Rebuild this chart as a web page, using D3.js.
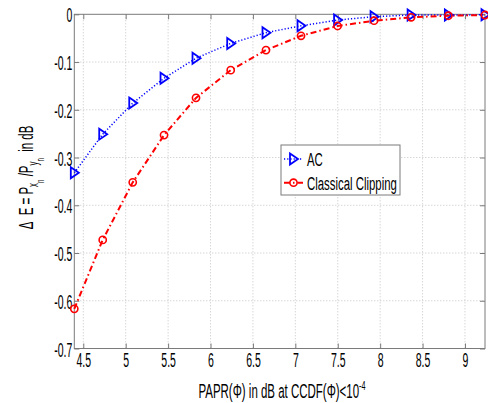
<!DOCTYPE html>
<html>
<head>
<meta charset="utf-8">
<script src="https://cdn.jsdelivr.net/npm/d3@7"></script>
<style>
  html, body { margin: 0; padding: 0; background: #fff; }
  svg { display: block; }
  text { font-family: "Liberation Sans", Arial, sans-serif; fill: #000; }
</style>
</head>
<body>
<svg id="chart" width="488" height="403"></svg>
<script>
// ---- data ----
const paprX = [4.394, 4.729, 5.083, 5.452, 5.829, 6.238, 6.654, 7.067, 7.498, 7.928, 8.365, 8.804, 9.236];
const acValues = [-0.332, -0.251, -0.186, -0.134, -0.092, -0.061, -0.0385, -0.024, -0.012, -0.005, -0.0015, -0.0015, -0.001];
const clipValues = [-0.617, -0.4725, -0.352, -0.253, -0.175, -0.117, -0.075, -0.045, -0.0245, -0.0134, -0.0063, -0.003, -0.0015];
const xTicks = [4.5, 5, 5.5, 6, 6.5, 7, 7.5, 8, 8.5, 9];
const xTickLabels = ["4.5", "5", "5.5", "6", "6.5", "7", "7.5", "8", "8.5", "9"];
const yTicks = [0, -0.1, -0.2, -0.3, -0.4, -0.5, -0.6, -0.7];
const yTickLabels = ["0", "-0.1", "-0.2", "-0.3", "-0.4", "-0.5", "-0.6", "-0.7"];
const seriesNames = ["AC", "Classical Clipping"];

// ---- layout ----
const W = 488, H = 403;
const plot = { left: 74.3, right: 485, top: 14.3, bottom: 348.5 };
const TICK_SX = 0.5;      // horizontal compression to mimic the condensed font
const axisColor = "#7a7a7a";
const gridColor = "#c4c4c4";

const svg = d3.select("#chart");

const x = d3.scaleLinear().domain([paprX[0], paprX[paprX.length - 1]]).range([plot.left, plot.right]);
const y = d3.scaleLinear().domain([-0.7, 0]).range([plot.bottom, plot.top]);

// background
svg.append("rect").attr("width", W).attr("height", H).attr("fill", "#fff");

// grid
const grid = svg.append("g");
grid.selectAll("line.vx").data(xTicks).enter().append("line")
  .attr("x1", d => x(d)).attr("x2", d => x(d))
  .attr("y1", plot.top).attr("y2", plot.bottom)
  .attr("stroke", gridColor).attr("stroke-width", 1).attr("stroke-dasharray", "1,2");
grid.selectAll("line.hy").data(yTicks.filter(d => d !== 0 && d !== -0.7)).enter().append("line")
  .attr("x1", plot.left).attr("x2", plot.right)
  .attr("y1", d => y(d)).attr("y2", d => y(d))
  .attr("stroke", gridColor).attr("stroke-width", 1).attr("stroke-dasharray", "1,2");

// axes
const xAxis = d3.axisBottom(x).tickValues(xTicks).tickFormat((d, i) => xTickLabels[i]).tickSizeInner(-5).tickSizeOuter(0).tickPadding(0);
const gx = svg.append("g").attr("transform", `translate(0,${plot.bottom})`).call(xAxis);
gx.select(".domain").remove();
gx.selectAll(".tick line").attr("stroke", axisColor);
gx.selectAll(".tick text")
  .attr("y", 18.5).attr("dy", 0)
  .attr("transform", `scale(${TICK_SX},1)`)
  .style("font-size", "21px").style("font-family", "'Liberation Sans', Arial, sans-serif").attr("fill", "#000");

const xAxisTop = d3.axisTop(x).tickValues(xTicks).tickFormat("").tickSizeInner(-5).tickSizeOuter(0);
const gxt = svg.append("g").attr("transform", `translate(0,${plot.top})`).call(xAxisTop);
gxt.select(".domain").remove();
gxt.selectAll(".tick line").attr("stroke", axisColor);

const yAxis = d3.axisLeft(y).tickValues(yTicks).tickFormat((d, i) => yTickLabels[i]).tickSizeInner(-5).tickSizeOuter(0).tickPadding(0);
const gy = svg.append("g").attr("transform", `translate(${plot.left},0)`).call(yAxis);
gy.select(".domain").remove();
gy.selectAll(".tick line").attr("stroke", axisColor);
gy.selectAll(".tick text")
  .attr("x", -2 / TICK_SX).attr("dy", "0.36em")
  .attr("transform", `scale(${TICK_SX},1)`)
  .style("font-size", "21px").style("font-family", "'Liberation Sans', Arial, sans-serif").attr("fill", "#000");

const yAxisRight = d3.axisRight(y).tickValues(yTicks).tickFormat("").tickSizeInner(-5).tickSizeOuter(0);
const gyr = svg.append("g").attr("transform", `translate(${plot.right},0)`).call(yAxisRight);
gyr.select(".domain").remove();
gyr.selectAll(".tick line").attr("stroke", axisColor);

// plot box
svg.append("rect").attr("x", plot.left).attr("y", plot.top)
  .attr("width", plot.right - plot.left).attr("height", plot.bottom - plot.top)
  .attr("fill", "none").attr("stroke", axisColor).attr("stroke-width", 1);

// marker helpers
function triRight(g, cx, cy, color) {
  g.append("path")
    .attr("d", `M${cx - 3.5},${cy - 5.5} L${cx + 4.5},${cy} L${cx - 3.5},${cy + 5.5} Z`)
    .attr("fill", "none").attr("stroke", color).attr("stroke-width", 1.8);
}
function circ(g, cx, cy, color) {
  g.append("circle").attr("cx", cx).attr("cy", cy).attr("r", 3.6)
    .attr("fill", "none").attr("stroke", color).attr("stroke-width", 1.6);
}

const acColor = "#0000ff", clipColor = "#ff0000";
const line = d3.line().x(d => x(d[0])).y(d => y(d[1]));

const acData = paprX.map((v, i) => [v, acValues[i]]);
const clipData = paprX.map((v, i) => [v, clipValues[i]]);

const series = svg.append("g");
series.append("path").datum(acData).attr("d", line)
  .attr("fill", "none").attr("stroke", acColor).attr("stroke-width", 1.5).attr("stroke-dasharray", "1.2,2");
series.append("path").datum(clipData).attr("d", line)
  .attr("fill", "none").attr("stroke", clipColor).attr("stroke-width", 2).attr("stroke-dasharray", "6,3,1.5,3");

const mk = svg.append("g");
acData.forEach(d => triRight(mk, x(d[0]), y(d[1]), acColor));
clipData.forEach(d => circ(mk, x(d[0]), y(d[1]), clipColor));

// text helper
function label(x0, y0, str, size, anchor, sx) {
  const g = svg.append("g").attr("transform", `translate(${x0},${y0}) scale(${sx},1)`);
  const t = g.append("text").attr("text-anchor", anchor || "start").style("font-size", size + "px");
  t.text(str);
  return t;
}

// legend
const lg = { x: 281, y: 145, w: 119, h: 50 };
svg.append("rect").attr("x", lg.x).attr("y", lg.y).attr("width", lg.w).attr("height", lg.h)
  .attr("fill", "#fff").attr("stroke", axisColor).attr("stroke-width", 1);
const ly1 = 159, ly2 = 182.7;
svg.append("line").attr("x1", 284).attr("x2", 303).attr("y1", ly1).attr("y2", ly1)
  .attr("stroke", acColor).attr("stroke-width", 1.5).attr("stroke-dasharray", "1.2,2");
triRight(svg, 293.5, ly1, acColor);
svg.append("line").attr("x1", 284).attr("x2", 303).attr("y1", ly2).attr("y2", ly2)
  .attr("stroke", clipColor).attr("stroke-width", 2).attr("stroke-dasharray", "6,3,1.5,3");
circ(svg, 293.5, ly2, clipColor);
label(307, ly1 + 6.8, seriesNames[0], 19, "start", 0.6);
label(307, ly2 + 6.8, seriesNames[1], 19, "start", 0.6);

// x-axis title
{
  const g = svg.append("g").attr("transform", `translate(282,397.5) scale(0.56,1)`);
  const t = g.append("text").attr("text-anchor", "middle").style("font-size", "20.5px");
  t.append("tspan").text("PAPR(\u03A6) in dB at CCDF(\u03A6)<10");
  t.append("tspan").attr("dy", -8).style("font-size", "13px").text("-4");
}

// y-axis title
{
  const g = svg.append("g").attr("transform", `translate(33,177.5) rotate(-90) scale(0.56,1)`);
  const t = g.append("text").attr("text-anchor", "middle").style("font-size", "20.5px");
  t.append("tspan").text("\u0394\u00A0\u00A0E = P");
  t.append("tspan").attr("dy", 5).style("font-size", "14px").text("x");
  t.append("tspan").attr("dy", 6).style("font-size", "11px").text("n");
  t.append("tspan").attr("dy", -11).text("\u00A0/P");
  t.append("tspan").attr("dy", 5).style("font-size", "14px").text("y");
  t.append("tspan").attr("dy", 6).style("font-size", "11px").text("n");
  t.append("tspan").attr("dy", -11).text("\u00A0\u00A0in dB");
}
</script>
</body>
</html>
